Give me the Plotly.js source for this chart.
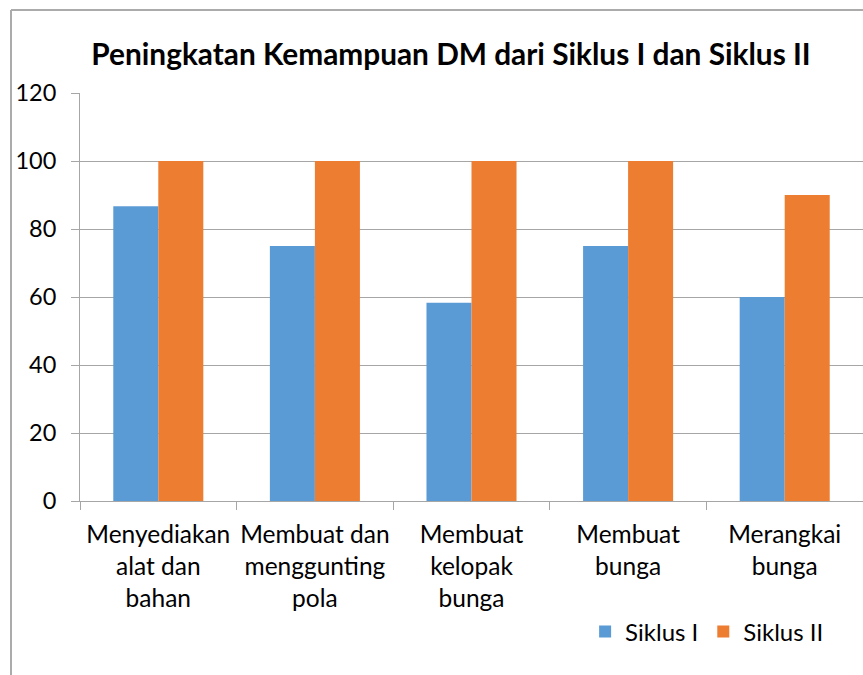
<!DOCTYPE html>
<html>
<head>
<meta charset="utf-8">
<script src="https://cdn.plot.ly/plotly-3.0.1.min.js"></script>
<style>
  html, body { margin: 0; padding: 0; background: #fff; }
  #chart { width: 863px; height: 675px; }
</style>
</head>
<body>
<div id="chart"></div>
<script>
const categories = [
  "Menyediakan<br>alat dan<br>bahan",
  "Membuat dan<br>menggunting<br>pola",
  "Membuat<br>kelopak<br>bunga",
  "Membuat<br>bunga",
  "Merangkai<br>bunga"
];
const siklus1 = [86.67, 75, 58.33, 75, 60];
const siklus2 = [100, 100, 100, 100, 90];
const yTicks = [0, 20, 40, 60, 80, 100, 120];

const FONT = "Lato, 'Open Sans', sans-serif";
const GRID = "#A6A6A6";

const traces = [
  { type: "bar", name: "Siklus I", x: categories, y: siklus1,
    marker: { color: "#5B9BD5" } },
  { type: "bar", name: "Siklus II", x: categories, y: siklus2,
    marker: { color: "#ED7D31" } }
];

const layout = {
  width: 863, height: 675,
  margin: { l: 80, r: 0, t: 93, b: 174 },
  paper_bgcolor: "#fff", plot_bgcolor: "#fff",
  font: { family: FONT, color: "#000", size: 24 },
  title: {
    text: "<b>Peningkatan Kemampuan DM dari Siklus I dan Siklus II</b>",
    font: { family: FONT, size: 29.8, color: "#000" },
    xref: "container", x: 0.5226, xanchor: "center",
    yref: "container", y: 1 - 55 / 675, yanchor: "middle"
  },
  barmode: "group",
  bargap: 0.425,
  bargroupgap: 0,
  xaxis: {
    type: "category",
    showgrid: false, zeroline: false,
    showline: true, linecolor: GRID, linewidth: 1,
    ticks: "outside", ticklen: 8, tickcolor: GRID, tickson: "boundaries",
    tickangle: 0,
    ticklabelstandoff: 12,
    tickfont: { family: FONT, size: 24.5, color: "#000" },
    fixedrange: true
  },
  yaxis: {
    range: [0, 120],
    tickvals: yTicks,
    ticktext: yTicks.map(String),
    showgrid: true, gridcolor: GRID, gridwidth: 1,
    zeroline: false,
    showline: true, linecolor: GRID, linewidth: 1,
    ticks: "outside", ticklen: 8, tickcolor: GRID,
    ticklabelstandoff: 10,
    tickfont: { family: FONT, size: 23.5, color: "#000" },
    fixedrange: true
  },
  legend: {
    orientation: "h",
    xref: "container", yref: "container",
    x: 0.678, xanchor: "left",
    y: 1 - 632 / 675, yanchor: "middle",
    font: { family: FONT, size: 24, color: "#000" },
    itemwidth: 30, traceorder: "normal"
  },
  shapes: [
    { type: "line", xref: "paper", yref: "paper",
      x0: (11 - 80) / 783, x1: 1.2, y0: (501 - 10) / 408, y1: (501 - 10) / 408,
      line: { color: "#ABABAB", width: 2 } },
    { type: "line", xref: "paper", yref: "paper",
      x0: (11 - 80) / 783, x1: (11 - 80) / 783, y0: (501 - 10) / 408, y1: -1,
      line: { color: "#ABABAB", width: 2 } }
  ]
};

Plotly.newPlot("chart", traces, layout, { displayModeBar: false, staticPlot: true });
</script>
</body>
</html>
